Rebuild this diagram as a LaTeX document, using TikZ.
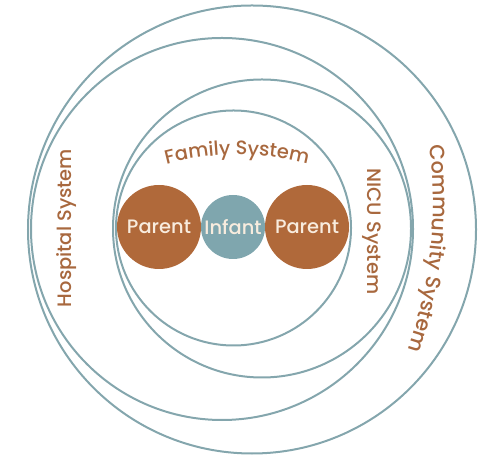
\documentclass[tikz,border=0pt]{standalone}
\usepackage{fontspec}
\setmainfont{Poppins}[UprightFont={* Medium}]
\usetikzlibrary{positioning,decorations.text}
\definecolor{ringline}{RGB}{132,166,173}
\definecolor{parentfill}{RGB}{176,105,58}
\definecolor{infantfill}{RGB}{127,166,174}
\definecolor{labeltext}{RGB}{168,104,62}
\definecolor{innertext}{RGB}{248,236,222}

\begin{document}
\begin{tikzpicture}[x=1bp, y=1bp,
  font=\fontsize{19.5}{24}\selectfont,
  ring/.style={draw=ringline, line width=2bp, circle, inner sep=0pt, minimum size=#1},
  member/.style={circle, inner sep=0pt, outer sep=0pt, text=innertext},
  parent/.style={member, fill=parentfill, minimum size=84bp},
  infant/.style={member, fill=infantfill, minimum size=64bp},
  lab/.style={text=labeltext, inner sep=0pt},
  arclab/.style 2 args={decorate, decoration={text along path, text align=center, text={|\fontsize{#2}{24}\selectfont\color{labeltext}|#1}}}]
\useasboundingbox (0,0) rectangle (484,457);

% ---- system rings ----
\node[ring=448bp] (community) at (252,227.5) {};
\node[ring=382bp] (hospital) at (222,228) {};
\node[ring=298bp] (nicu) at (262,228.5) {};
\node[ring=235bp] (family) at (233.5,229) {};

% ---- family members ----
\node[infant] (infant) at (233,230) {Infant};
\node[parent, left=0pt of infant] (parentl) {Parent};
\node[parent, right=0pt of infant] (parentr) {Parent};

% ---- system labels ----
\node[lab, rotate=90] (hosplab) at (67,229) {Hospital System};
\node[lab, rotate=-90] (niculab) at (372,225.5) {NICU System};
\path[arclab={Family System}{19.5}] (237,25) ++(110:277) arc[start angle=110, end angle=70, radius=277];
\path[arclab={Community System}{20.8}] (-37,257) ++(18:470) arc[start angle=18, end angle=-30, radius=470];
\end{tikzpicture}
\end{document}
